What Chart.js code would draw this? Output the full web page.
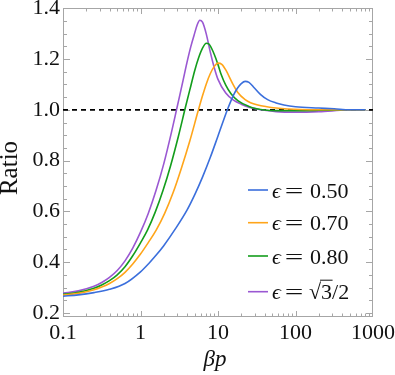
<!DOCTYPE html>
<html>
<head>
<meta charset="utf-8">
<script src="https://cdn.jsdelivr.net/npm/chart.js@4.4.1/dist/chart.umd.min.js"></script>
<style>
  html, body { margin: 0; padding: 0; background: #ffffff; }
</style>
</head>
<body>
<canvas id="ratioChart" width="395" height="375"></canvas>
<script>
// values (x = beta*p, y = ratio)
const legendLabels = ["0.50", "0.70", "0.80", "sqrt"];
const lineColors = ["#3b6fdc", "#ffa51a", "#139d1c", "#9a58d2"];

const bpBlue = [0.1, 0.158, 0.251, 0.398, 0.631, 1, 1.28, 1.585, 1.995, 2.83, 3.981, 5.05, 6.31, 7.94, 10, 13.4, 15.85, 17.8, 19.95, 22.4, 25.1, 29.5, 35.5, 43.7, 56.2, 70.8, 100, 200, 316, 500, 800];
const ratioBlue = [0.266, 0.271, 0.280, 0.293, 0.316, 0.362, 0.395, 0.427, 0.465, 0.532, 0.605, 0.668, 0.735, 0.812, 0.897, 1.005, 1.058, 1.085, 1.103, 1.112, 1.108, 1.086, 1.060, 1.040, 1.027, 1.019, 1.012, 1.007, 1.004, 1.000, 1.000];

const bpOrange = [0.1, 0.158, 0.251, 0.316, 0.398, 0.501, 0.631, 0.794, 1, 1.259, 1.6, 2.05, 2.63, 3.37, 4.335, 5.56, 6.31, 7.08, 7.94, 8.91, 10, 11.2, 12.59, 15.5, 18, 22.4, 26.3, 42.7, 79.4, 200, 450, 800];
const ratioOrange = [0.270, 0.277, 0.291, 0.302, 0.316, 0.335, 0.360, 0.393, 0.432, 0.477, 0.527, 0.592, 0.673, 0.770, 0.878, 0.997, 1.055, 1.103, 1.142, 1.170, 1.184, 1.179, 1.157, 1.102, 1.068, 1.040, 1.028, 1.012, 1.003, 1.000, 1.000, 1.000];

const bpGreen = [0.1, 0.158, 0.251, 0.316, 0.398, 0.501, 0.631, 0.794, 1, 1.23, 1.549, 1.95, 2.455, 3.09, 3.8, 4.467, 5.012, 5.623, 6.31, 7.08, 7.59, 8.91, 10, 10.96, 12.59, 14.8, 18, 25.1, 31.6, 39.8, 56.2, 100, 200, 450, 800];
const ratioGreen = [0.273, 0.281, 0.297, 0.310, 0.327, 0.350, 0.382, 0.425, 0.476, 0.526, 0.597, 0.682, 0.782, 0.897, 1.010, 1.095, 1.155, 1.205, 1.243, 1.262, 1.260, 1.220, 1.178, 1.140, 1.097, 1.062, 1.036, 1.013, 1.004, 0.999, 0.997, 0.997, 0.998, 1.000, 1.000];

const bpPurple = [0.1, 0.158, 0.251, 0.316, 0.398, 0.501, 0.631, 0.794, 1, 1.259, 1.585, 1.995, 2.512, 2.94, 3.162, 3.548, 3.981, 4.467, 5.012, 5.37, 5.82, 6.31, 7.08, 7.94, 8.91, 10, 12.59, 15.85, 19.95, 25.1, 31.6, 39.8, 56.2, 100, 200, 450, 800];
const ratioPurple = [0.278, 0.287, 0.305, 0.320, 0.340, 0.367, 0.405, 0.455, 0.518, 0.592, 0.682, 0.787, 0.912, 1.005, 1.048, 1.117, 1.187, 1.250, 1.303, 1.333, 1.353, 1.345, 1.297, 1.228, 1.168, 1.120, 1.066, 1.038, 1.022, 1.010, 1.003, 0.998, 0.993, 0.991, 0.993, 0.999, 1.000];

const refX = [0.1, 1000];
const refY = [1.0, 1.0];

const xTicks = [0.1, 1, 10, 100, 1000];
const yTicks = [0.2, 0.4, 0.6, 0.8, 1.0, 1.2, 1.4];

function toPoints(xs, ys) {
  return xs.map((x, i) => ({ x: x, y: ys[i] }));
}

function curve(xs, ys, color) {
  return {
    data: toPoints(xs, ys),
    borderColor: color,
    borderWidth: 1.6,
    pointRadius: 0,
    cubicInterpolationMode: 'monotone',
    fill: false
  };
}

const serif = '"Liberation Serif", "Times New Roman", serif';
const frameColor = '#a6a6a6';

// frame + inside ticks on all four sides, titles, legend
const frameTicks = {
  id: 'frameTicks',
  beforeDatasetsDraw(chart) {
    const ctx = chart.ctx;
    const a = chart.chartArea;
    const xs = chart.scales.x;
    const ys = chart.scales.y;
    ctx.save();
    ctx.strokeStyle = frameColor;
    ctx.lineWidth = 1;
    ctx.strokeRect(a.left + 0.5, a.top + 0.5, a.right - a.left - 1, a.bottom - a.top - 1);

    ctx.beginPath();
    for (let d = 0.1; d < 1000; d *= 10) {
      for (let m = 1; m < 10; m++) {
        const px = Math.round(xs.getPixelForValue(d * m)) + 0.5;
        const len = m === 1 ? 6 : 3.5;
        ctx.moveTo(px, a.bottom); ctx.lineTo(px, a.bottom - len);
        ctx.moveTo(px, a.top); ctx.lineTo(px, a.top + len);
      }
    }
    for (let i = 0; i <= 24; i++) {
      const py = Math.round(ys.getPixelForValue(0.2 + i * 0.05)) + 0.5;
      const len = i % 4 === 0 ? 7 : 4;
      ctx.moveTo(a.left, py); ctx.lineTo(a.left + len, py);
      ctx.moveTo(a.right, py); ctx.lineTo(a.right - len, py);
    }
    ctx.stroke();
    ctx.restore();
  },
  afterDraw(chart) {
    const ctx = chart.ctx;
    ctx.save();
    ctx.fillStyle = '#111';

    // axis titles
    ctx.font = 'italic 23px ' + serif;
    ctx.textAlign = 'center';
    ctx.textBaseline = 'alphabetic';
    ctx.fillText('\u03b2p', 215, 366);

    ctx.translate(17, 168);
    ctx.rotate(-Math.PI / 2);
    ctx.font = '25px ' + serif;
    ctx.fillText('Ratio', 0, 0);
    ctx.setTransform(1, 0, 0, 1, 0, 0);

    // legend
    const rowY = [190, 222.7, 256, 291.7];
    ctx.textAlign = 'left';
    legendLabels.forEach((lab, i) => {
      const y = rowY[i];
      ctx.strokeStyle = lineColors[i];
      ctx.lineWidth = 1.6;
      ctx.beginPath();
      ctx.moveTo(248, y); ctx.lineTo(268, y);
      ctx.stroke();

      ctx.fillStyle = '#111';
      ctx.font = 'italic 22px ' + serif;
      ctx.fillText('\u03f5', 272, y + 7.5);

      ctx.font = '22px ' + serif;
      ctx.save();
      ctx.textAlign = 'center';
      ctx.translate(294, y + 7.5);
      ctx.scale(1.5, 1);
      ctx.fillText('=', 0, 0);
      ctx.restore();

      if (lab === 'sqrt') {
        ctx.fillText('\u221a', 309, y + 7.5);
        const w = ctx.measureText('\u221a').width;
        ctx.fillText('3', 309 + w, y + 7.5);
        const w3 = ctx.measureText('3').width;
        ctx.fillText('/2', 309 + w + w3, y + 7.5);
        ctx.strokeStyle = '#111';
        ctx.lineWidth = 1;
        ctx.beginPath();
        ctx.moveTo(309 + w - 1, y - 11.5);
        ctx.lineTo(309 + w + w3 + 0.5, y - 11.5);
        ctx.stroke();
      } else {
        ctx.fillText(lab, 310, y + 7.5);
      }
    });
    ctx.restore();
  }
};

const ctx = document.getElementById('ratioChart').getContext('2d');
const ratioChart = new Chart(ctx, {
  type: 'line',
  data: {
    datasets: [
      curve(bpBlue, ratioBlue, lineColors[0]),
      curve(bpOrange, ratioOrange, lineColors[1]),
      curve(bpGreen, ratioGreen, lineColors[2]),
      curve(bpPurple, ratioPurple, lineColors[3]),
      {
        data: toPoints(refX, refY),
        borderColor: '#000',
        borderWidth: 1.7,
        borderDash: [5, 4],
        pointRadius: 0,
        fill: false
      }
    ]
  },
  options: {
    responsive: false,
    animation: false,
    layout: { padding: { top: 8, right: 22, left: 0, bottom: 0 } },
    plugins: {
      legend: { display: false },
      tooltip: { enabled: false }
    },
    scales: {
      x: {
        type: 'logarithmic',
        min: 0.1,
        max: 1000,
        grid: { display: false, drawTicks: false },
        border: { display: false },
        afterBuildTicks: (scale) => {
          scale.ticks = xTicks.map(v => ({ value: v }));
        },
        afterFit: (scale) => {
          scale.height = 58;
          scale.paddingLeft = 0;
          scale.paddingRight = 0;
        },
        ticks: {
          autoSkip: false,
          maxRotation: 0,
          padding: 3,
          color: '#111',
          font: { family: serif, size: 22 },
          callback: (v) => String(v)
        }
      },
      y: {
        type: 'linear',
        min: 0.184,
        max: 1.401,
        grid: { display: false, drawTicks: false },
        border: { display: false },
        afterBuildTicks: (scale) => {
          scale.ticks = yTicks.map(v => ({ value: v }));
        },
        afterFit: (scale) => {
          scale.width = 63;
          scale.paddingTop = 0;
          scale.paddingBottom = 0;
        },
        ticks: {
          padding: 3,
          color: '#111',
          font: { family: serif, size: 22 },
          callback: (v) => Number(v).toFixed(1)
        }
      }
    }
  },
  plugins: [frameTicks]
});
</script>
</body>
</html>
